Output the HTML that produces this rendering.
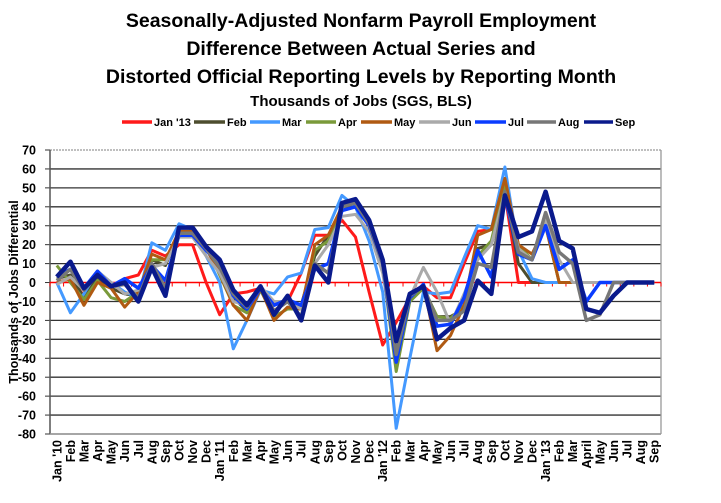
<!DOCTYPE html>
<html><head><meta charset="utf-8"><style>
body{margin:0;background:#fff;}
svg{display:block;font-family:"Liberation Sans",Arial,sans-serif;font-weight:bold;}
</style></head><body>
<svg id="s" width="721" height="503" viewBox="0 0 721 503" xmlns="http://www.w3.org/2000/svg">
<rect width="721" height="503" fill="#fff"/>
<g text-anchor="middle" fill="#000">
<text x="361" y="27" font-size="19.5">Seasonally-Adjusted Nonfarm Payroll Employment</text>
<text x="361" y="55" font-size="19.5">Difference Between Actual Series and</text>
<text x="361" y="83" font-size="19.5">Distorted Official Reporting Levels by Reporting Month</text>
<text x="361" y="106" font-size="15">Thousands of Jobs (SGS, BLS)</text>
</g>
<g id="leg" font-size="11"></g>
<g id="grid"></g>
<g id="lines" fill="none" stroke-linejoin="round"></g>
<text transform="translate(18,292) rotate(-90)" text-anchor="middle" font-size="12.5">Thousands of Jobs Differential</text>
</svg>
<script>
var ns="http://www.w3.org/2000/svg";
function el(p,t,a,txt){var e=document.createElementNS(ns,t);for(var k in a)e.setAttribute(k,a[k]);if(txt!=null)e.textContent=txt;p.appendChild(e);return e;}
var X0=50,X1=661,Y0=150,Y1=434,N=45,st=(X1-X0)/N;
function X(i){return X0+st*(i+0.5);}
function Y(v){return Y0+(70-v)*(Y1-Y0)/150;}
var g=document.getElementById('grid');
for(var v=-80;v<=70;v+=10){
 var y=Y(v);
 if(v!=0) el(g,'line',{x1:X0,x2:X1,y1:y,y2:y,stroke:(v==70?'#999':'#333'),'stroke-width':1.3,'stroke-dasharray':(v==70?'2,1':'')});
 el(g,'line',{x1:X0-5,x2:X0,y1:y,y2:y,stroke:'#333'});
 el(g,'text',{x:36,y:y+4.5,'text-anchor':'end','font-size':12.5},v);
}
el(g,'line',{x1:X0,x2:X0,y1:Y0,y2:Y1,stroke:'#555','stroke-width':1.5});
el(g,'line',{x1:X1,x2:X1,y1:Y0,y2:Y1,stroke:'#999','stroke-width':1.3});
el(g,'line',{x1:X0,x2:X1,y1:Y1,y2:Y1,stroke:'#999','stroke-width':1.5});
el(g,'line',{x1:X0,x2:X1,y1:Y(0),y2:Y(0),stroke:'#f00','stroke-width':1.5});
for(var i=0;i<=N;i++){var x=X0+st*i;el(g,'line',{x1:x,x2:x,y1:Y(0),y2:Y(0)+4,stroke:'#f00'});}
var labs=["Jan '10","Feb","Mar","Apr","May","Jun","Jul","Aug","Sep","Oct","Nov","Dec","Jan '11","Feb","Mar","Apr","May","Jun","Jul","Aug","Sep","Oct","Nov","Dec","Jan '12","Feb","Mar","Apr","May","Jun","Jul","Aug","Sep","Oct","Nov","Dec","Jan '13","Feb","Mar","April","May","Jun","Jul","Aug","Sep"];
labs.forEach(function(t,i){el(g,'text',{transform:'translate('+(X(i)+4.5)+',440) rotate(-90)','text-anchor':'end','font-size':12.5},t);});
var S=[
["#ff1a1a",3,[0,2,-7,1,-2,2,4,17,14,20,20,0,-17,-6,-5,-3,-15,-10,5,25,25,33,24,-5,-33,-21,-8,-2,-8,-8,10,27,28,47,0]],
["#4d4d2e",3,[2,4,-8,3,-3,-6,-7,12,9,26,27,18,6,-8,-15,-3,-15,-10,-12,14,25,38,41,30,8,-37,-7,-3,-18,-18,-14,18,20,48,10,0]],
["#4499ff",3,[0,-16,-6,6,0,-5,-8,21,17,31,28,14,0,-35,-20,-4,-6,3,5,28,29,46,40,22,-5,-77,-40,-5,-6,-5,13,30,28,61,17,2,0]],
["#7a9a3a",3,[9,0,-9,1,-8,-10,-5,12,12,25,26,19,4,-12,-16,-4,-18,-14,-14,17,22,38,40,30,8,-47,-10,-3,-18,-19,-12,14,22,52,20,12,30,0]],
["#b05a12",3,[0,2,-12,0,-3,-13,-5,15,12,27,27,18,5,-12,-20,-3,-20,-13,-14,20,25,40,42,33,10,-40,-8,-1,-36,-28,-12,25,28,55,20,15,30,0]],
["#aaaaaa",3,[-1,3,-4,6,0,-6,-4,8,10,24,24,14,5,-10,-12,-2,-10,-10,-14,10,20,35,36,27,5,-38,-8,8,-5,-22,-6,12,20,48,18,12,33,12,0]],
["#0a3cff",3.5,[3,7,-3,6,-2,2,-3,9,1,25,25,17,10,-7,-14,-3,-12,-9,-12,7,10,38,40,30,10,-42,-8,-1,-23,-22,-8,17,3,46,15,12,30,7,12,-10,0]],
["#777777",3.5,[1,7,-4,4,-2,-1,-8,10,-3,26,26,18,8,-6,-13,-2,-15,-10,-18,10,5,40,42,31,10,-38,-7,-2,-20,-20,-15,10,8,48,16,12,37,16,10,-20,-17,0]],
["#0a1a8c",4.5,[3,11,-3,4,-2,0,-10,8,-7,29,29,19,12,-4,-12,-2,-17,-7,-20,9,0,42,44,33,12,-31,-6,-2,-30,-24,-20,1,-6,46,24,27,48,22,18,-14,-16,-7,0,0,0]]
];
var L=document.getElementById('lines');
S.forEach(function(s){var d=s[2].slice();while(d.length<N)d.push(0);
 el(L,'polyline',{points:d.map(function(v,i){return X(i).toFixed(1)+','+Y(v).toFixed(1);}).join(' '),stroke:s[0],'stroke-width':s[1]});});
var names=["Jan '13","Feb","Mar","Apr","May","Jun","Jul","Aug","Sep"];
var lx=[[122,154],[194,227],[250,282],[306,338],[361,394],[419,452],[475,508],[527,558],[584,615]];
var lg=document.getElementById('leg');
names.forEach(function(n,i){el(lg,'line',{x1:lx[i][0],x2:lx[i][1]-2,y1:122,y2:122,stroke:S[i][0],'stroke-width':3.5});
 el(lg,'text',{x:lx[i][1],y:126},n);});
</script>
</body></html>
